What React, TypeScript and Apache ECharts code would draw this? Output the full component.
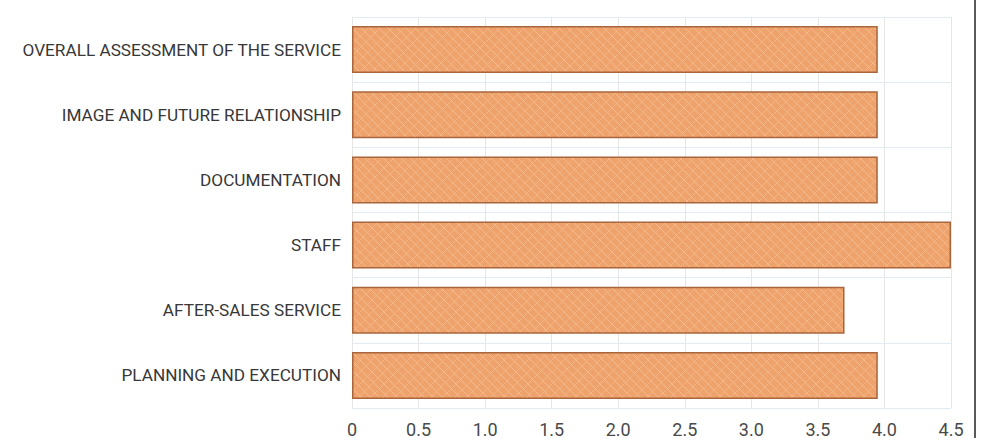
import React, { useEffect, useRef } from "react";
import * as echarts from "echarts";

// Categories listed bottom to top (ECharts category y axis starts at the bottom)
const categories: string[] = [
  "PLANNING AND EXECUTION",
  "AFTER-SALES SERVICE",
  "STAFF",
  "DOCUMENTATION",
  "IMAGE AND FUTURE RELATIONSHIP",
  "OVERALL ASSESSMENT OF THE SERVICE",
];

const scores: number[] = [3.95, 3.7, 4.5, 3.95, 3.95, 3.95];

const axisMin = 0;
const axisMax = 4.5;
const axisStep = 0.5;

// Hand-drawn style cross-hatch texture for the bars
function makeHatch(): HTMLCanvasElement {
  const size = 36;
  const c = document.createElement("canvas");
  c.width = size;
  c.height = size;
  const ctx = c.getContext("2d")!;
  ctx.fillStyle = "#EEA26C";
  ctx.fillRect(0, 0, size, size);
  ctx.lineWidth = 1;
  // one diagonal direction
  ctx.strokeStyle = "rgba(252, 205, 170, 0.55)";
  for (let k = -size; k <= size * 2; k += 9) {
    ctx.beginPath();
    ctx.moveTo(k, 0);
    ctx.lineTo(k + size, size);
    ctx.stroke();
  }
  // the other diagonal direction
  ctx.strokeStyle = "rgba(250, 195, 155, 0.45)";
  for (let k = -size; k <= size * 2; k += 12) {
    ctx.beginPath();
    ctx.moveTo(k, size);
    ctx.lineTo(k + size, 0);
    ctx.stroke();
  }
  return c;
}

export default function App() {
  const ref = useRef<HTMLDivElement>(null);

  useEffect(() => {
    if (!ref.current) return;
    const chart = echarts.init(ref.current, undefined, { renderer: "svg" });
    const hatch = makeHatch();

    chart.setOption({
      animation: false,
      backgroundColor: "#ffffff",
      grid: { left: 352, right: 33, top: 17, bottom: 27, containLabel: false },
      xAxis: {
        type: "value",
        min: axisMin,
        max: axisMax,
        interval: axisStep,
        axisLine: { show: false },
        axisTick: { show: false },
        splitLine: { show: true, lineStyle: { color: "#e6e6e6", width: 1 } },
        axisLabel: {
          color: "#4a4a4a",
          fontFamily: "Roboto",
          fontSize: 18,
          margin: 12,
          formatter: (v: number) => (v === 0 ? "0" : v.toFixed(1)),
        },
      },
      yAxis: {
        type: "category",
        data: categories,
        axisLine: { show: false },
        axisTick: { show: false },
        splitLine: { show: true, lineStyle: { color: "#e2ebf2", width: 1 } },
        axisLabel: {
          color: "#383838",
          fontFamily: "Roboto",
          fontSize: 17.2,
          margin: 11,
        },
      },
      series: [
        {
          type: "bar",
          data: scores,
          barCategoryGap: "28%",
          itemStyle: {
            color: { image: hatch, repeat: "repeat" },
            borderColor: "#A9653C",
            borderWidth: 1.5,
          },
        },
      ],
      graphic: [
        {
          type: "line",
          shape: { x1: 975, y1: 0, x2: 975, y2: 438 },
          style: { stroke: "#222222", lineWidth: 1.5 },
        },
      ],
    });

    return () => chart.dispose();
  }, []);

  return (
    <div
      ref={ref}
      style={{ position: "fixed", left: 0, top: 0, width: 984, height: 438 }}
    />
  );
}
